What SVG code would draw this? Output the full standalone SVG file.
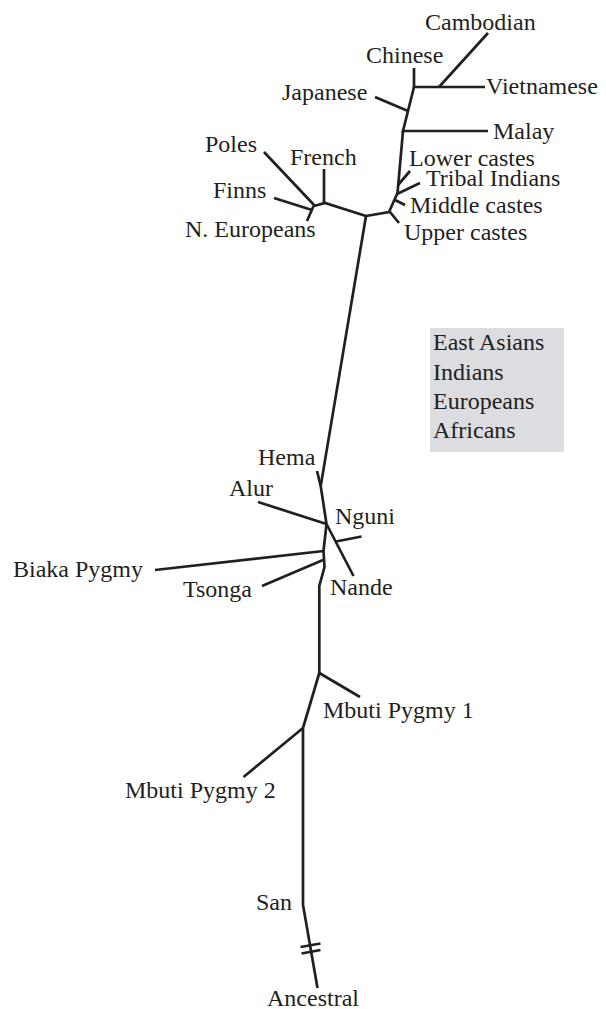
<svg xmlns="http://www.w3.org/2000/svg" width="606" height="1009" viewBox="0 0 606 1009">
<style>
.lbl{font-family:"Liberation Serif","Times New Roman",serif;font-size:24px;fill:#231f20}
.e{fill:none;stroke:#231f20;stroke-width:2.7;stroke-linejoin:miter;stroke-linecap:butt}
</style>
<rect width="606" height="1009" fill="#ffffff"/>
<g id="connectors">
<path class="e" d="M488,33 L439,87"/>
<path class="e" d="M414,68 L414,87 L485,87"/>
<path class="e" d="M414,87 L403,131 L488,131"/>
<path class="e" d="M375,97 L408,111"/>
<path class="e" d="M403,131 L397.5,193 L389,212 L366,216"/>
<path class="e" d="M410,171 L398,185"/>
<path class="e" d="M420,183 L397,194"/>
<path class="e" d="M405,205 L395,200"/>
<path class="e" d="M399,223 L390,212"/>
<path class="e" d="M366,216 L325,203 L314,206"/>
<path class="e" d="M324,169 L324,203"/>
<path class="e" d="M264,152 L315,206"/>
<path class="e" d="M274,198 L312,210"/>
<path class="e" d="M307,221 L313.5,206"/>
<path class="e" d="M366,216 L320.7,486 L326.5,524"/>
<path class="e" d="M317,471 L320.7,486"/>
<path class="e" d="M258,502 L326.5,524"/>
<path class="e" d="M326.5,524 L353.5,576"/>
<path class="e" d="M336,541.5 L361.5,536.5"/>
<path class="e" d="M326.5,524 L323.5,551 L324.5,567 L319.3,586 L319.3,673"/>
<path class="e" d="M155,570 L323.5,551"/>
<path class="e" d="M262,586 L323,560"/>
<path class="e" d="M319.3,673 L360,697"/>
<path class="e" d="M319.3,673 L303,728"/>
<path class="e" d="M303,728 L243.5,777"/>
<path class="e" d="M303,728 L303,905 L317.5,988"/>
<path class="e" d="M300.5,947 L320.5,943.5"/>
<path class="e" d="M301.5,953.5 L320.5,950"/>
</g>
<g id="cambodian"><text class="lbl" x="425" y="30">Cambodian</text></g>
<g id="chinese"><text class="lbl" x="366" y="63">Chinese</text></g>
<g id="vietnamese"><text class="lbl" x="486" y="94">Vietnamese</text></g>
<g id="japanese"><text class="lbl" x="282" y="100">Japanese</text></g>
<g id="malay"><text class="lbl" x="493" y="139">Malay</text></g>
<g id="lower-castes"><text class="lbl" x="409" y="166">Lower castes</text></g>
<g id="tribal-indians"><text class="lbl" x="426" y="186">Tribal Indians</text></g>
<g id="middle-castes"><text class="lbl" x="410" y="213">Middle castes</text></g>
<g id="upper-castes"><text class="lbl" x="404" y="240">Upper castes</text></g>
<g id="poles"><text class="lbl" x="205" y="152">Poles</text></g>
<g id="french"><text class="lbl" x="290" y="165">French</text></g>
<g id="finns"><text class="lbl" x="213" y="198">Finns</text></g>
<g id="n-europeans"><text class="lbl" x="185" y="237">N. Europeans</text></g>
<g id="hema"><text class="lbl" x="258" y="465">Hema</text></g>
<g id="alur"><text class="lbl" x="229" y="496">Alur</text></g>
<g id="nguni"><text class="lbl" x="335" y="524">Nguni</text></g>
<g id="biaka-pygmy"><text class="lbl" x="13" y="577">Biaka Pygmy</text></g>
<g id="tsonga"><text class="lbl" x="183" y="597">Tsonga</text></g>
<g id="nande"><text class="lbl" x="330" y="595">Nande</text></g>
<g id="mbuti-pygmy-1"><text class="lbl" x="323" y="718">Mbuti Pygmy 1</text></g>
<g id="mbuti-pygmy-2"><text class="lbl" x="125" y="798">Mbuti Pygmy 2</text></g>
<g id="san"><text class="lbl" x="256" y="910">San</text></g>
<g id="ancestral"><text class="lbl" x="267" y="1006">Ancestral</text></g>
<g id="legend">
<rect x="430" y="328" width="134" height="124" fill="#dcdde0"/>
<text class="lbl" x="433" y="350">East Asians</text>
<text class="lbl" x="433" y="380">Indians</text>
<text class="lbl" x="433" y="409">Europeans</text>
<text class="lbl" x="433" y="438">Africans</text>
</g>
</svg>
